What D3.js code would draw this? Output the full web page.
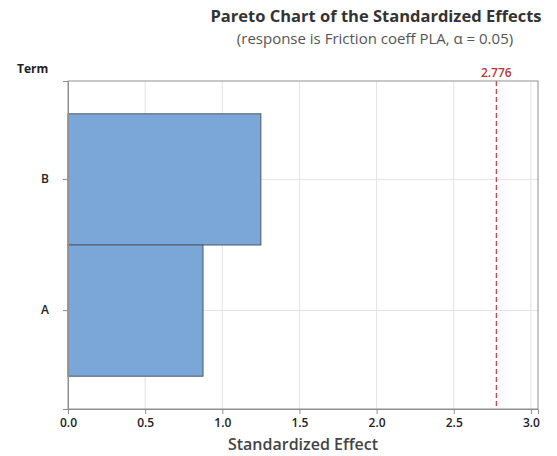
<!DOCTYPE html>
<html>
<head>
<meta charset="utf-8">
<script src="https://cdn.jsdelivr.net/npm/d3@7"></script>
<style>
  body { margin: 0; background: #fff; }
  svg { font-family: "Open Sans", "Noto Sans", sans-serif; }
</style>
</head>
<body>
<svg id="chart" width="557" height="456"></svg>
<script>
const terms = ["B", "A"];
const effects = [1.25, 0.875];
const xTicks = [0, 0.5, 1.0, 1.5, 2.0, 2.5, 3.0];
const critical = 2.776;

const svg = d3.select("#chart");
const margin = { top: 81, right: 19, bottom: 47, left: 68 };
const width = 557 - margin.left - margin.right;
const height = 456 - margin.top - margin.bottom;

const x = d3.scaleLinear().domain([0, 3.046]).range([0, width]);
const y = d3.scaleBand().domain(terms).range([0, height]).paddingInner(0).paddingOuter(0.25);

const g = svg.append("g").attr("transform", `translate(${margin.left},${margin.top})`);

// gridlines
g.selectAll(".vgrid").data(xTicks.slice(1)).enter().append("line")
    .attr("x1", d => x(d)).attr("x2", d => x(d))
    .attr("y1", 0).attr("y2", height)
    .attr("stroke", "#e3e3e3").attr("stroke-width", 1);
g.selectAll(".hgrid").data(terms).enter().append("line")
    .attr("x1", 0).attr("x2", width)
    .attr("y1", d => y(d) + y.bandwidth() / 2).attr("y2", d => y(d) + y.bandwidth() / 2)
    .attr("stroke", "#e3e3e3").attr("stroke-width", 1);

// bars
g.selectAll(".bar").data(terms).enter().append("rect")
    .attr("x", x(0))
    .attr("y", d => y(d))
    .attr("width", (d, i) => x(effects[i]) - x(0))
    .attr("height", y.bandwidth())
    .attr("fill", "#7ba6d8")
    .attr("stroke", "#4f5b6a")
    .attr("stroke-width", 1);

// reference line
g.append("line")
    .attr("x1", x(critical)).attr("x2", x(critical))
    .attr("y1", 0).attr("y2", height)
    .attr("stroke", "#e0303a").attr("stroke-width", 1.2)
    .attr("stroke-dasharray", "5,3");
g.append("text")
    .attr("x", x(critical)).attr("y", -4)
    .attr("text-anchor", "middle")
    .attr("font-size", 12).attr("font-weight", 600)
    .attr("fill", "#b8343a")
    .text(critical.toFixed(3));

// frame
g.append("rect").attr("width", width).attr("height", height)
    .attr("fill", "none").attr("stroke", "#8f8f8f").attr("stroke-width", 1);

// axes
const xAxis = g.append("g").attr("transform", `translate(0,${height})`)
    .call(d3.axisBottom(x).tickValues(xTicks).tickFormat(d3.format(".1f")).tickSize(5).tickPadding(4));
const yAxis = g.append("g")
    .call(d3.axisLeft(y).tickSize(5).tickPadding(14));
[xAxis, yAxis].forEach(a => {
  a.select(".domain").attr("stroke", "#8f8f8f");
  a.selectAll(".tick line").attr("stroke", "#8f8f8f");
  a.selectAll("text").attr("font-size", 12).attr("font-weight", 600)
    .attr("fill", "#222").attr("font-family", "'Open Sans', sans-serif");
});

// titles
svg.append("text").attr("x", 376).attr("y", 22).attr("text-anchor", "middle")
    .attr("font-size", 16.5).attr("font-weight", 700).attr("fill", "#333")
    .text("Pareto Chart of the Standardized Effects");
svg.append("text").attr("x", 375).attr("y", 44).attr("text-anchor", "middle")
    .attr("font-size", 15).attr("fill", "#555")
    .text("(response is Friction coeff PLA, \u03b1 = 0.05)");
svg.append("text").attr("x", 17).attr("y", 73)
    .attr("font-size", 12).attr("font-weight", 700).attr("fill", "#222")
    .text("Term");
svg.append("text").attr("x", 303).attr("y", 450).attr("text-anchor", "middle")
    .attr("font-size", 16).attr("font-weight", 600).attr("fill", "#444")
    .text("Standardized Effect");
</script>
</body>
</html>
